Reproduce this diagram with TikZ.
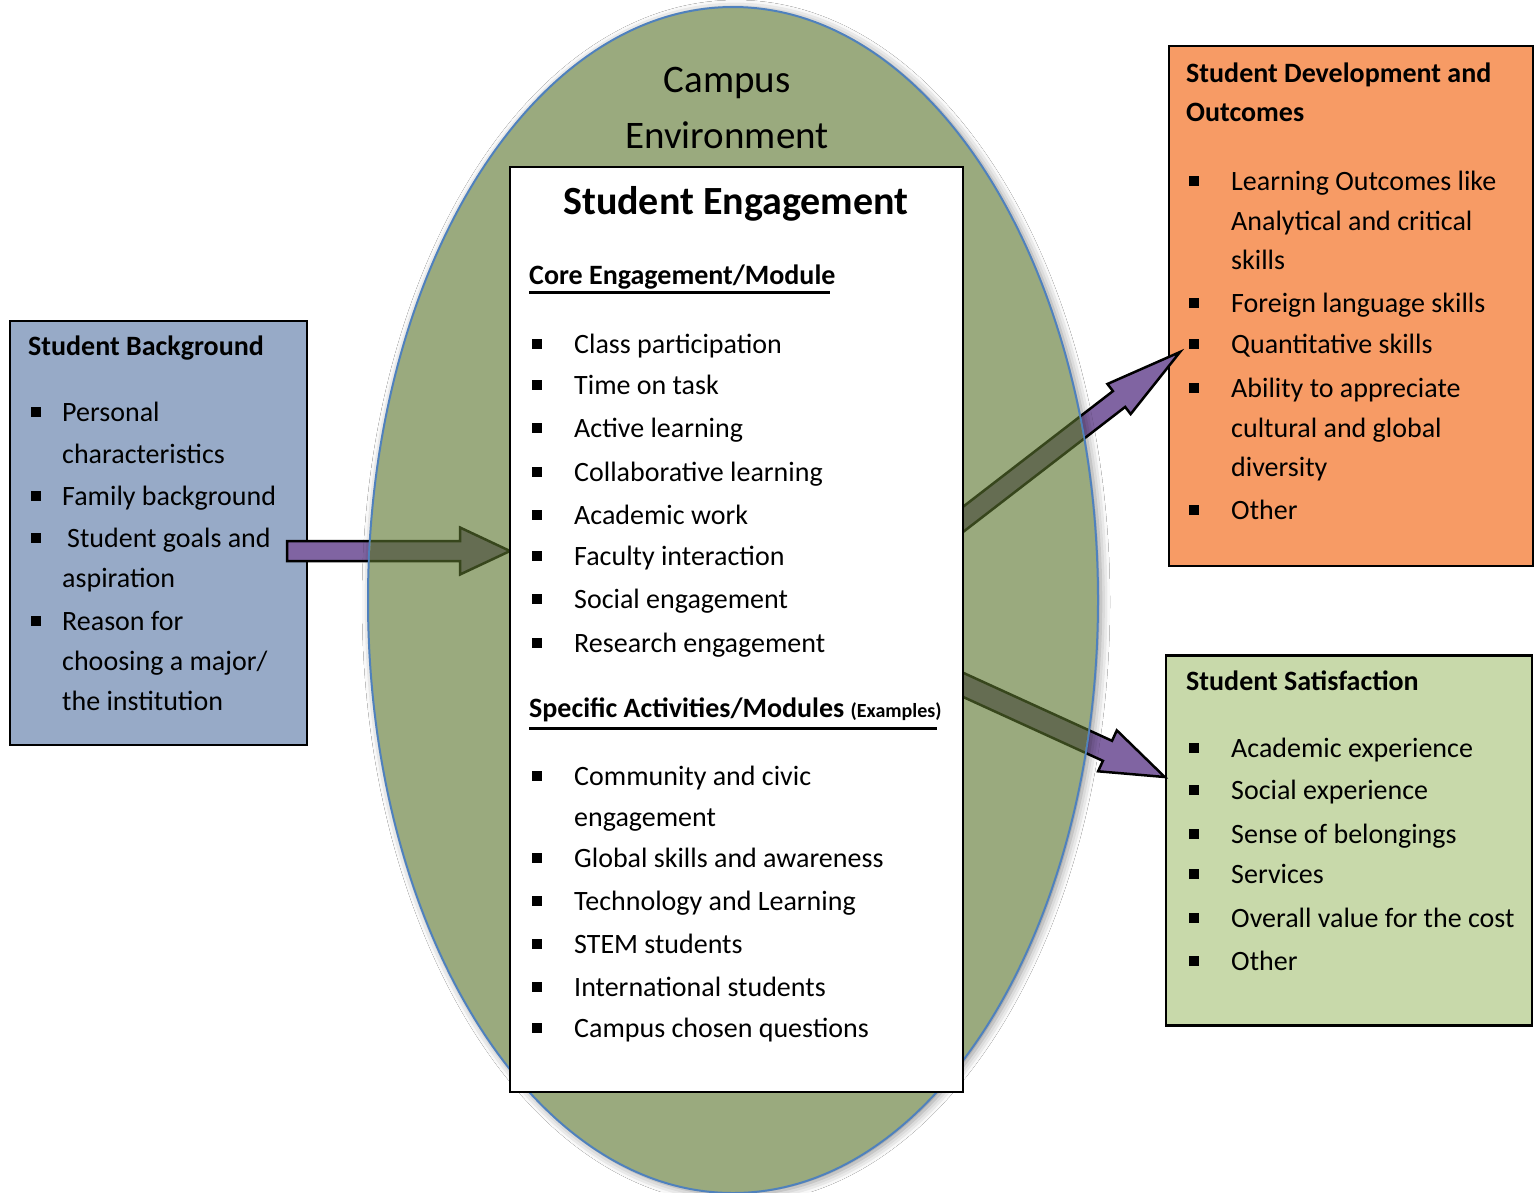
\documentclass[tikz,border=0pt]{standalone}
\usepackage{fontspec}
\setmainfont{Carlito}
\usetikzlibrary{calc,shadows.blur}
\definecolor{envgreen}{RGB}{154,170,126}
\definecolor{envblue}{RGB}{79,129,189}
\definecolor{bgblue}{RGB}{151,170,199}
\definecolor{outorange}{RGB}{247,155,101}
\definecolor{satgreen}{RGB}{200,217,170}
\definecolor{arrpurple}{RGB}{128,100,162}
\definecolor{arrolive}{RGB}{101,109,82}
\definecolor{arrdark}{RGB}{55,70,28}
\tikzset{
  body/.style={anchor=base west, inner sep=0pt, font=\fontsize{28}{28}\selectfont},
  headtxt/.style={anchor=base west, inner sep=0pt, font=\fontsize{28}{28}\selectfont\bfseries},
  bul/.style={fill=black, inner sep=0pt, minimum width=10pt, minimum height=10pt},
  panel/.style={draw=black, line width=2.5pt, inner sep=0pt, rectangle},
  blockout/.style={fill=arrpurple, draw=black, line width=2.5pt, line join=miter},
  blockin/.style={fill=arrolive, draw=arrdark, line width=2.5pt, line join=miter},
  uline/.style={line width=3pt, draw=black},
}
\newcommand{\blockarrow}[6]{%
  \coordinate (ba-h) at ($(#2)!#5!(#1)$);
  \draw[#6] ($(#1)!#3!90:(#2)$) -- ($(ba-h)!#3!90:(#2)$) -- ($(ba-h)!#4!90:(#2)$)
    -- (#2) -- ($(ba-h)!#4!-90:(#2)$) -- ($(ba-h)!#3!-90:(#2)$) -- ($(#1)!#3!-90:(#2)$) -- cycle;
}
\begin{document}
\begin{tikzpicture}[x=1pt,y=-1pt]
\useasboundingbox (0,0) rectangle (1538,1192);
\fill[white] (0,0) rectangle (1538,1192);

% side panels
\node[panel, fill=bgblue, minimum width=297pt, minimum height=424pt] (bg) at (158.5,533) {};
\node[panel, fill=outorange, minimum width=364pt, minimum height=520pt] (out) at (1351,306) {};
\node[panel, fill=satgreen, minimum width=366pt, minimum height=370pt] (sat) at (1349,840.5) {};

% arrow end points
\coordinate (la-s) at (287,551);
\coordinate (ua-s) at (900,568);
\coordinate (ua-t) at (1180,352);
\coordinate (da-s) at (900,656);
\coordinate (da-t) at (sat.west |- 0,777);
\coordinate (la-t) at (510,551);

% purple arrows
\blockarrow{la-s}{la-t}{10pt}{23.5pt}{50pt}{blockout}
\blockarrow{ua-s}{ua-t}{10pt}{19pt}{77pt}{blockout}
\blockarrow{da-s}{da-t}{11pt}{22.5pt}{63pt}{blockout}

% campus environment ellipse
\draw[fill=envgreen, draw=envblue, line width=2pt,
  blur shadow={shadow xshift=3pt, shadow yshift=-2pt, shadow blur radius=9pt, shadow opacity=45}]
  (733,600) ellipse [x radius=365pt, y radius=593pt];
\begin{scope}
  \clip (733,600) ellipse [x radius=364pt, y radius=592pt];
  \blockarrow{la-s}{la-t}{10pt}{23.5pt}{50pt}{blockin}
  \blockarrow{ua-s}{ua-t}{10pt}{19pt}{77pt}{blockin}
  \blockarrow{da-s}{da-t}{11pt}{22.5pt}{63pt}{blockin}
\end{scope}
\node[anchor=base, inner sep=0pt, font=\fontsize{39}{39}\selectfont] (env1) at (727,92) {Campus};
\node[anchor=base, inner sep=0pt, font=\fontsize{39}{39}\selectfont] (env2) at (727,148) {Environment};

% engagement panel
\node[panel, fill=white, minimum width=453pt, minimum height=925pt] (eng) at (736.5,629.5) {};
\node[anchor=base west, inner sep=0pt, font=\fontsize{40}{40}\selectfont\bfseries] (engt) at (563,214) {Student Engagement};
\node[headtxt] (core) at (529,284) {Core Engagement/Module};
\draw[uline] (529,292) -- (830,292);
\foreach \yy/\tx in {353/Class participation, 394/Time on task, 437/Active learning, 481/Collaborative learning, 524/Academic work, 565/Faculty interaction, 608/Social engagement, 652/Research engagement}{
  \node[bul] at (537,\yy-9) {};
  \node[body] at (574,\yy) {\tx};
}
\node[headtxt] (spec) at (529,717) {Specific Activities/Modules {\fontsize{20}{20}\selectfont(Examples)}};
\draw[uline] (529,728) -- (937,728);
\foreach \yy/\tx in {785/Community and civic, 867/Global skills and awareness, 910/Technology and Learning, 953/STEM students, 996/International students, 1037/Campus chosen questions}{
  \node[bul] at (537,\yy-9) {};
  \node[body] at (574,\yy) {\tx};
}
\node[body] at (574,826) {engagement};

% background text
\node[headtxt] (bgt) at (28,355) {Student Background};
\foreach \yy in {421,505,547,630}{ \node[bul] at (36,\yy-9) {}; }
\node[body] at (62,421) {Personal};
\node[body] at (62,463) {characteristics};
\node[body] at (62,505) {Family background};
\node[body] at (67,547) {Student goals and};
\node[body] at (62,587) {aspiration};
\node[body] at (62,630) {Reason for};
\node[body] at (62,670) {choosing a major/};
\node[body] at (62,710) {the institution};

% outcomes text
\node[headtxt] (outt) at (1186,82) {Student Development and};
\node[headtxt] at (1186,121) {Outcomes};
\foreach \yy in {190,312,353,397,519}{ \node[bul] at (1194,\yy-9) {}; }
\node[body] at (1231,190) {Learning Outcomes like};
\node[body] at (1231,230) {Analytical and critical};
\node[body] at (1231,269) {skills};
\node[body] at (1231,312) {Foreign language skills};
\node[body] at (1231,353) {Quantitative skills};
\node[body] at (1231,397) {Ability to appreciate};
\node[body] at (1231,437) {cultural and global};
\node[body] at (1231,476) {diversity};
\node[body] at (1231,519) {Other};

% satisfaction text
\node[headtxt] (satt) at (1186,690) {Student Satisfaction};
\foreach \yy/\tx in {757/Academic experience, 799/Social experience, 843/Sense of belongings, 883/Services, 927/Overall value for the cost, 970/Other}{
  \node[bul] at (1194,\yy-9) {};
  \node[body] at (1231,\yy) {\tx};
}
\end{tikzpicture}
\end{document}
